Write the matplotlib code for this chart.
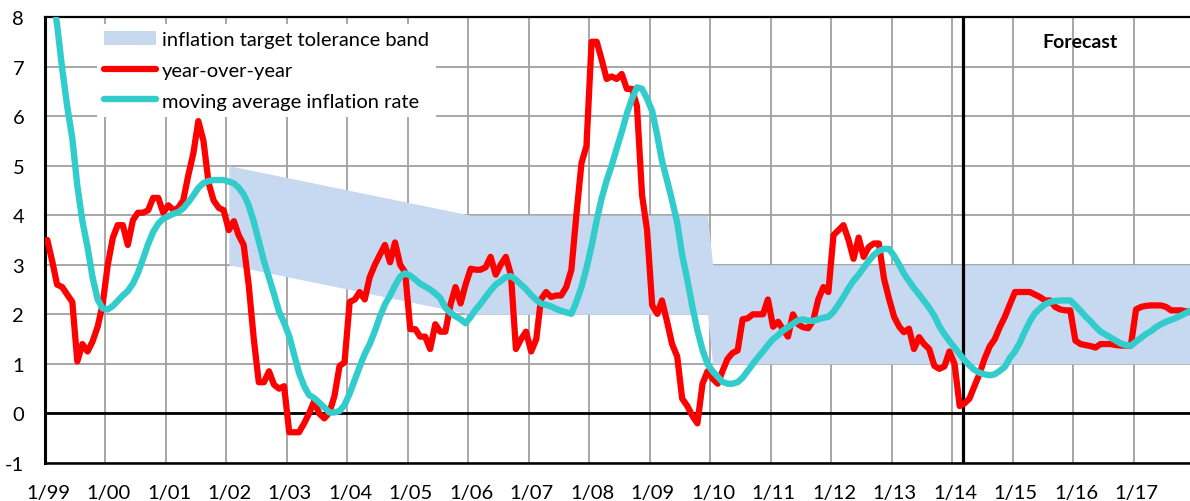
import numpy as np
import pandas as pd
import matplotlib
matplotlib.use('Agg')
import matplotlib.pyplot as plt
import matplotlib.transforms as mtransforms
from matplotlib.patches import Patch
from matplotlib.lines import Line2D

plt.rcParams['font.family'] = ['Lato', 'DejaVu Sans']
plt.rcParams['axes.unicode_minus'] = False

# monthly observations, Jan 1999 .. Dec 2017 (plotted mid-month)
dates = pd.date_range('1999-01-01', periods=228, freq='MS') + pd.Timedelta(days=14)

yoy = [
    3.5, 3.05, 2.6, 2.55, 2.4, 2.25, 1.05, 1.4, 1.25, 1.45, 1.75, 2.2,          # 1999
    3.0, 3.55, 3.8, 3.8, 3.4, 3.9, 4.05, 4.05, 4.1, 4.35, 4.35, 4.05,           # 2000
    4.2, 4.1, 4.15, 4.3, 4.8, 5.25, 5.9, 5.5, 4.65, 4.3, 4.15, 4.1,             # 2001
    3.7, 3.88, 3.6, 3.4, 2.6, 1.5, 0.63, 0.63, 0.85, 0.58, 0.5, 0.55,           # 2002
    -0.38, -0.38, -0.38, -0.2, 0.0, 0.25, 0.0, -0.1, 0.02, 0.35, 0.96, 1.03,    # 2003
    2.25, 2.3, 2.45, 2.3, 2.75, 3.0, 3.2, 3.4, 3.05, 3.45, 3.0, 2.85,           # 2004
    1.7, 1.7, 1.55, 1.55, 1.3, 1.8, 1.65, 1.65, 2.2, 2.55, 2.22, 2.6,           # 2005
    2.92, 2.9, 2.9, 2.95, 3.16, 2.8, 3.0, 3.16, 2.8, 1.3, 1.5, 1.65,            # 2006
    1.25, 1.5, 2.3, 2.45, 2.35, 2.38, 2.38, 2.55, 2.9, 4.0, 5.05, 5.4,          # 2007
    7.5, 7.5, 7.15, 6.75, 6.8, 6.75, 6.85, 6.55, 6.55, 6.2, 4.4, 3.7,           # 2008
    2.18, 2.01, 2.28, 1.85, 1.4, 1.15, 0.3, 0.15, -0.05, -0.2, 0.6, 0.85,       # 2009
    0.7, 0.6, 0.85, 1.1, 1.22, 1.27, 1.9, 1.92, 2.0, 2.0, 2.0, 2.3,             # 2010
    1.75, 1.85, 1.7, 1.55, 2.0, 1.8, 1.74, 1.72, 1.88, 2.3, 2.55, 2.45,         # 2011
    3.6, 3.7, 3.8, 3.5, 3.12, 3.55, 3.16, 3.36, 3.43, 3.43, 2.72, 2.32,         # 2012
    1.95, 1.75, 1.64, 1.71, 1.3, 1.54, 1.4, 1.3, 0.96, 0.9, 0.95, 1.25,         # 2013
    1.0, 0.15, 0.2, 0.3, 0.55, 0.8, 1.1, 1.35, 1.5, 1.74, 1.95, 2.2,            # 2014
    2.45, 2.45, 2.45, 2.45, 2.4, 2.35, 2.28, 2.28, 2.15, 2.1, 2.08, 2.08,       # 2015
    1.47, 1.4, 1.38, 1.36, 1.33, 1.4, 1.4, 1.4, 1.38, 1.37, 1.37, 1.37,         # 2016
    2.1, 2.15, 2.17, 2.18, 2.18, 2.18, 2.15, 2.08, 2.08, 2.08, 2.06, 2.04,      # 2017
]

moving_avg = [
    9.1, 8.45, 7.85, 6.95, 6.2, 5.55, 4.6, 3.88, 3.35, 2.75, 2.3, 2.12,         # 1999
    2.1, 2.17, 2.27, 2.38, 2.47, 2.62, 2.83, 3.12, 3.42, 3.66, 3.83, 3.93,      # 2000
    3.98, 4.03, 4.06, 4.14, 4.26, 4.4, 4.55, 4.65, 4.69, 4.71, 4.71, 4.71,      # 2001
    4.68, 4.64, 4.56, 4.42, 4.2, 3.87, 3.48, 3.08, 2.74, 2.41, 2.05, 1.83,      # 2002
    1.56, 1.17, 0.82, 0.55, 0.37, 0.31, 0.22, 0.12, 0.02, 0.02, 0.05, 0.17,     # 2003
    0.4, 0.68, 0.94, 1.2, 1.4, 1.66, 1.95, 2.2, 2.38, 2.58, 2.76, 2.83,         # 2004
    2.78, 2.7, 2.62, 2.56, 2.5, 2.42, 2.33, 2.13, 2.03, 1.96, 1.9, 1.82,        # 2005
    1.95, 2.1, 2.21, 2.35, 2.48, 2.6, 2.67, 2.75, 2.77, 2.7, 2.6, 2.51,         # 2006
    2.39, 2.29, 2.22, 2.19, 2.16, 2.11, 2.07, 2.04, 2.01, 2.25, 2.55, 2.93,     # 2007
    3.38, 3.9, 4.33, 4.7, 5.0, 5.35, 5.68, 6.05, 6.35, 6.58, 6.55, 6.35,        # 2008
    6.1, 5.6, 5.1, 4.7, 4.3, 3.85, 3.2, 2.7, 2.15, 1.68, 1.28, 1.0,             # 2009
    0.85, 0.74, 0.64, 0.6, 0.6, 0.63, 0.72, 0.86, 1.0, 1.13, 1.25, 1.38,        # 2010
    1.5, 1.58, 1.67, 1.74, 1.81, 1.88, 1.9, 1.87, 1.87, 1.9, 1.93, 1.95,        # 2011
    2.05, 2.2, 2.35, 2.53, 2.68, 2.8, 2.94, 3.08, 3.2, 3.28, 3.32, 3.32,        # 2012
    3.18, 3.0, 2.82, 2.67, 2.53, 2.4, 2.27, 2.13, 1.97, 1.76, 1.6, 1.46,        # 2013
    1.33, 1.2, 1.08, 0.97, 0.88, 0.82, 0.79, 0.77, 0.79, 0.86, 0.94, 1.12,      # 2014
    1.25, 1.44, 1.65, 1.86, 2.02, 2.12, 2.2, 2.25, 2.27, 2.28, 2.28, 2.28,      # 2015
    2.18, 2.07, 1.96, 1.86, 1.75, 1.65, 1.59, 1.53, 1.47, 1.41, 1.38, 1.37,     # 2016
    1.45, 1.53, 1.6, 1.66, 1.74, 1.8, 1.85, 1.89, 1.93, 1.98, 2.03, 2.08,       # 2017
]

# inflation target tolerance band (corner points)
band_dates = pd.to_datetime(['2002-01-15', '2006-01-15', '2009-12-15', '2010-01-15', '2017-12-15'])
band_upper = [5, 4, 4, 3, 3]
band_lower = [3, 2, 2, 1, 1]

forecast_start = pd.Timestamp('2014-03-10')
year_ticks = pd.date_range('1999-01-01', '2017-01-01', freq='YS')
tick_labels = ['1/%02d' % (d.year % 100) for d in year_ticks]

RED = '#FF0000'
TEAL = '#33CCCC'
BAND = '#C6D9F0'
GRID = '#A0A0A0'

fig = plt.figure(figsize=(11.9, 5.02), dpi=100)
ax = fig.add_axes([45 / 1190, 1 - 464 / 502, 1 - 45 / 1190, (464 - 18) / 502])

ax.fill_between(band_dates, band_lower, band_upper, color=BAND, lw=0, zorder=1)
ax.axhline(0, color='black', lw=2, zorder=1.5)
ax.axvline(forecast_start, color='black', lw=2.3, zorder=1.5)

ax.plot(dates, yoy, color=RED, lw=4.5, solid_joinstyle='round', solid_capstyle='round', zorder=3)
ax.plot(dates, moving_avg, color=TEAL, lw=4.6, solid_joinstyle='round', solid_capstyle='round', zorder=4)

ax.set_xlim(pd.Timestamp('1999-01-01'), pd.Timestamp('2017-12-07'))
ax.set_ylim(-1, 8)
ax.set_yticks(range(-1, 9))
ax.set_xticks(year_ticks)
ax.set_xticklabels(tick_labels)
ax.tick_params(axis='both', length=0, labelsize=14.5)
ax.tick_params(axis='x', pad=15)
ax.tick_params(axis='y', pad=15)

# Excel puts the date labels a few pixels right of the gridline
shift = mtransforms.ScaledTranslation(3 / 100, 0, fig.dpi_scale_trans)
for lbl in ax.get_xticklabels():
    lbl.set_transform(lbl.get_transform() + shift)

ax.grid(True, color=GRID, lw=1.3, zorder=0)
ax.set_axisbelow(True)
ax.spines['left'].set_linewidth(2.2)
ax.spines['bottom'].set_linewidth(1.8)
ax.spines['top'].set_linewidth(1.6)
ax.spines['right'].set_visible(False)

ax.text(pd.Timestamp('2016-02-10'), 7.5, 'Forecast', fontsize=14, fontweight='bold',
        ha='center', va='center', zorder=5)

handles = [Patch(facecolor=BAND, edgecolor='none'),
           Line2D([], [], color=RED, lw=4.5, solid_capstyle='round'),
           Line2D([], [], color=TEAL, lw=4.6, solid_capstyle='round')]
labels = ['inflation target tolerance band', 'year-over-year', 'moving average inflation rate']
leg = ax.legend(handles, labels, loc='upper left', bbox_to_anchor=(0.045, 0.985),
                fontsize=14.5, frameon=True, facecolor='white', edgecolor='none', framealpha=1,
                fancybox=False, handlelength=2.6, handleheight=0.75, handletextpad=0.3,
                labelspacing=0.66, borderpad=0.35, borderaxespad=0)
leg.set_zorder(6)

fig.savefig('out.png', dpi=100)
